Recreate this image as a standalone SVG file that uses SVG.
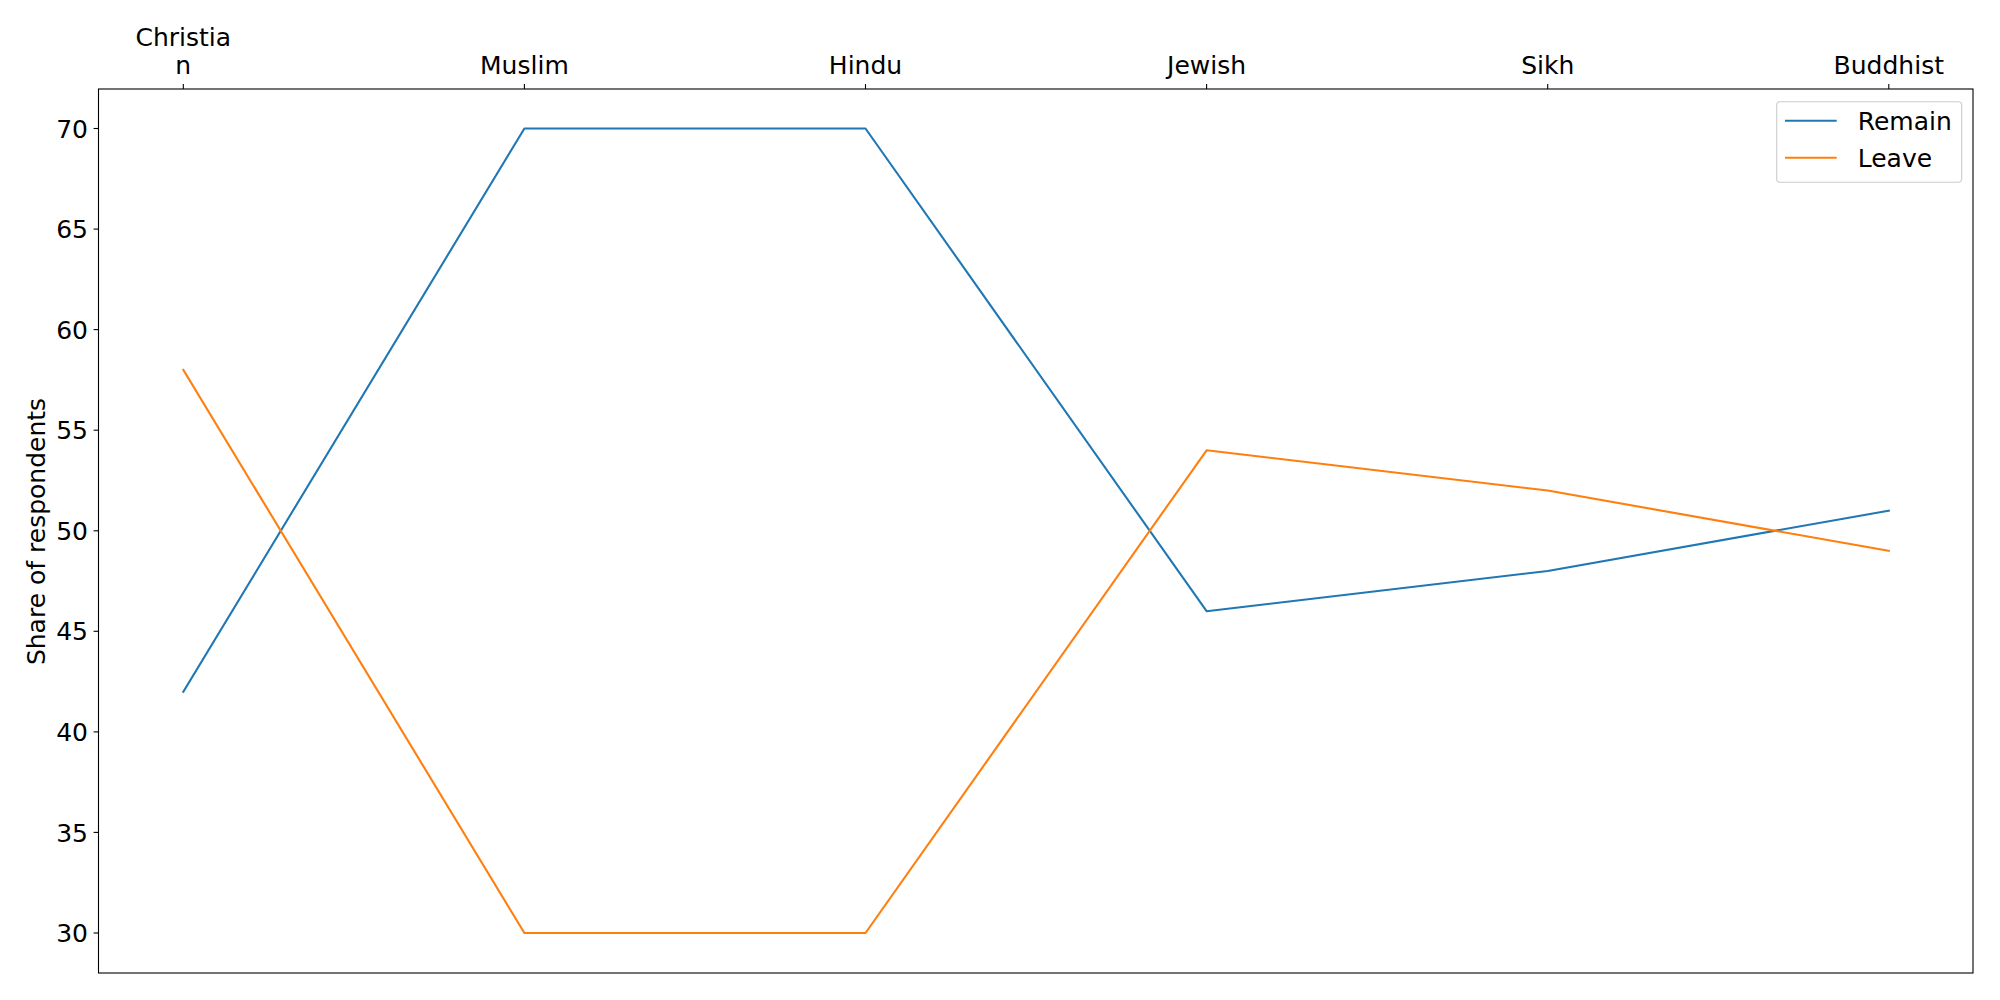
<svg xmlns="http://www.w3.org/2000/svg" width="2000" height="1000" viewBox="0 0 2000 1000">
<style>
text{font-family:"DejaVu Sans","Liberation Sans",sans-serif;font-size:25px;fill:#000}
.yt{text-anchor:end}
.xt{text-anchor:middle}
.tick{stroke:#000;stroke-width:1.1}
.series{fill:none;stroke-width:2.1;stroke-linejoin:round;stroke-linecap:square}
</style>
<rect x="0" y="0" width="2000" height="1000" fill="#fff"/>
<g id="axes">
<rect x="98.5" y="89" width="1874.5" height="884" fill="none" stroke="#000" stroke-width="1.1"/>
</g>
<g id="yticks">
<line class="tick" x1="93.6" y1="128.5" x2="98.5" y2="128.5"/>
<line class="tick" x1="93.6" y1="229.1" x2="98.5" y2="229.1"/>
<line class="tick" x1="93.6" y1="329.6" x2="98.5" y2="329.6"/>
<line class="tick" x1="93.6" y1="430.2" x2="98.5" y2="430.2"/>
<line class="tick" x1="93.6" y1="530.8" x2="98.5" y2="530.8"/>
<line class="tick" x1="93.6" y1="631.3" x2="98.5" y2="631.3"/>
<line class="tick" x1="93.6" y1="731.9" x2="98.5" y2="731.9"/>
<line class="tick" x1="93.6" y1="832.4" x2="98.5" y2="832.4"/>
<line class="tick" x1="93.6" y1="933" x2="98.5" y2="933"/>
<text class="yt" x="88" y="137.6">70</text>
<text class="yt" x="88" y="238.2">65</text>
<text class="yt" x="88" y="338.7">60</text>
<text class="yt" x="88" y="439.3">55</text>
<text class="yt" x="88" y="539.9">50</text>
<text class="yt" x="88" y="640.4">45</text>
<text class="yt" x="88" y="741">40</text>
<text class="yt" x="88" y="841.5">35</text>
<text class="yt" x="88" y="942.1">30</text>
</g>
<g id="xticks">
<line class="tick" x1="183.3" y1="84.1" x2="183.3" y2="89"/>
<line class="tick" x1="524.4" y1="84.1" x2="524.4" y2="89"/>
<line class="tick" x1="865.5" y1="84.1" x2="865.5" y2="89"/>
<line class="tick" x1="1206.6" y1="84.1" x2="1206.6" y2="89"/>
<line class="tick" x1="1547.7" y1="84.1" x2="1547.7" y2="89"/>
<line class="tick" x1="1888.8" y1="84.1" x2="1888.8" y2="89"/>
<text class="xt" x="183.3" y="46">Christia</text>
<text class="xt" x="183.3" y="74">n</text>
<text class="xt" x="524.4" y="74">Muslim</text>
<text class="xt" x="865.5" y="74">Hindu</text>
<text class="xt" x="1206.6" y="74">Jewish</text>
<text class="xt" x="1547.7" y="74">Sikh</text>
<text class="xt" x="1888.8" y="74">Buddhist</text>
</g>
<g id="ylabel">
<text class="xt" transform="translate(45 531.5) rotate(-90)">Share of respondents</text>
</g>
<g id="connectors">
<polyline id="remain" class="series" stroke="#1f77b4" points="183.3,691.7 524.4,128.5 865.5,128.5 1206.6,611.2 1547.7,571 1888.8,510.6"/>
<polyline id="leave" class="series" stroke="#ff7f0e" points="183.3,369.9 524.4,933 865.5,933 1206.6,450.3 1547.7,490.5 1888.8,550.9"/>
</g>
<g id="legend">
<rect x="1776.7" y="101.7" width="185" height="80.6" rx="3.5" ry="3.5" fill="#fff" fill-opacity="0.8" stroke="#cccccc" stroke-width="1.1"/>
<line x1="1785" y1="120.7" x2="1836.7" y2="120.7" stroke="#1f77b4" stroke-width="2.1"/>
<line x1="1785" y1="157.7" x2="1836.7" y2="157.7" stroke="#ff7f0e" stroke-width="2.1"/>
<text x="1857.7" y="129.8">Remain</text>
<text x="1857.7" y="166.8">Leave</text>
</g>
</svg>
